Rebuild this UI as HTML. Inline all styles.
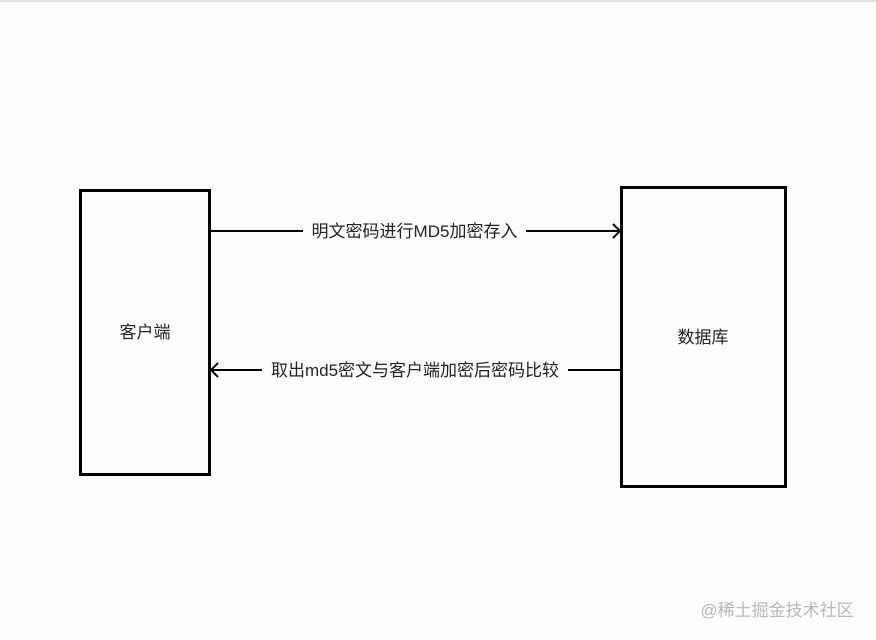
<!DOCTYPE html>
<html><head><meta charset="utf-8"><style>
html,body{margin:0;padding:0;background:#fdfdfd;}
body{width:876px;height:640px;overflow:hidden;position:relative;font-family:"Liberation Sans","Noto Sans CJK SC",sans-serif;}
</style></head><body>
<svg width="876" height="640" style="position:absolute;left:0;top:0">
<rect x="0" y="0" width="876" height="2" fill="#e4e4e4"/>
<rect x="80.5" y="190.5" width="129" height="284" fill="none" stroke="#000" stroke-width="3"/>
<rect x="621.5" y="187.5" width="164" height="299" fill="none" stroke="#000" stroke-width="3"/>
<line x1="211" y1="231" x2="303" y2="231" stroke="#000" stroke-width="2"/>
<line x1="526" y1="231" x2="620" y2="231" stroke="#000" stroke-width="2"/>
<polyline points="613,224 620,231 613,238" fill="none" stroke="#000" stroke-width="2"/>
<line x1="211" y1="370" x2="262" y2="370" stroke="#000" stroke-width="2"/>
<line x1="568" y1="370" x2="620" y2="370" stroke="#000" stroke-width="2"/>
<polyline points="218,363 211,370 218,377" fill="none" stroke="#000" stroke-width="2"/>
<g font-family="Liberation Sans,Noto Sans CJK SC,sans-serif" font-size="17" fill="#222" text-anchor="middle">
<text x="414.5" y="237">明文密码进行MD5加密存入</text>
<text x="415" y="376">取出md5密文与客户端加密后密码比较</text>
<text x="145" y="338">客户端</text>
<text x="703" y="343">数据库</text>
</g>
<text x="777" y="616" font-family="Liberation Sans,Noto Sans CJK SC,sans-serif" font-size="17" fill="#b8b8b8" text-anchor="middle">@稀土掘金技术社区</text>
</svg>
</body></html>
